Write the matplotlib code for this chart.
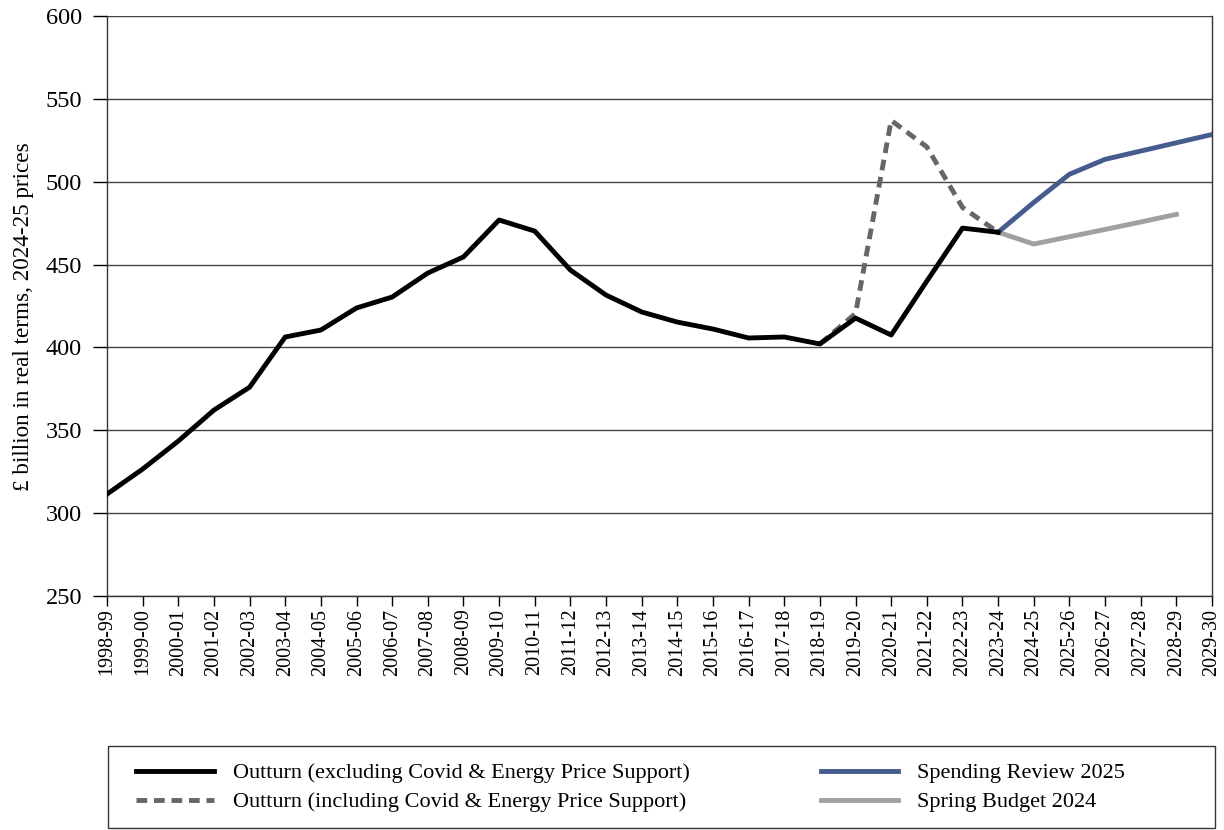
import matplotlib.pyplot as plt
from matplotlib.lines import Line2D
from matplotlib.patches import Rectangle

plt.rcParams['font.family'] = ['Liberation Serif', 'DejaVu Serif']

years = ["1998-99", "1999-00", "2000-01", "2001-02", "2002-03", "2003-04", "2004-05",
         "2005-06", "2006-07", "2007-08", "2008-09", "2009-10", "2010-11", "2011-12",
         "2012-13", "2013-14", "2014-15", "2015-16", "2016-17", "2017-18", "2018-19",
         "2019-20", "2020-21", "2021-22", "2022-23", "2023-24", "2024-25", "2025-26",
         "2026-27", "2027-28", "2028-29", "2029-30"]

# outturn excluding covid & energy support, 1998-99 to 2023-24
outturn_excl = [311.5, 326.6, 343.5, 362.2, 376.0, 406.3, 410.5, 423.8, 430.4, 444.9,
                454.6, 476.9, 470.2, 446.7, 431.6, 421.4, 415.3, 411.1, 405.7, 406.3,
                402.1, 417.7, 407.5, 440.0, 472.0, 469.5]
# including support, 2018-19 to 2023-24
outturn_incl = [402.1, 420.5, 537.0, 521.0, 484.5, 469.5]
# plans
sr2025 = [469.5, 487.5, 504.5, 513.5, 518.5, 523.5, 528.5]   # 2023-24 to 2029-30
sb2024 = [469.5, 462.4, 466.8, 471.2, 475.7, 480.3]          # 2023-24 to 2028-29

LW = 3.5
DASH = (0, (2.2, 1.4))

fig = plt.figure(figsize=(12.24, 8.3), dpi=100)
ax = fig.add_axes([107 / 1224, 1 - 596 / 830, (1212 - 107) / 1224, (596 - 16) / 830])

x_all = list(range(len(years)))
ax.plot(x_all[20:26], outturn_incl, color='#666666', lw=LW, ls=DASH, zorder=3)
ax.plot(x_all[25:31], sb2024, color='#a0a0a0', lw=LW, zorder=3)
ax.plot(x_all[25:32], sr2025, color='#465b8e', lw=LW, zorder=3)
ax.plot(x_all[:26], outturn_excl, color='black', lw=LW, zorder=4)

ax.set_xlim(0, 31)
ax.set_ylim(250, 600)
ax.set_yticks(range(250, 601, 50))
ax.set_xticks(x_all)
ax.set_xticklabels(years, rotation=90, fontsize=14.5)
ax.tick_params(axis='y', labelsize=17.5, length=10, width=1, direction='out', pad=8)
ax.tick_params(axis='x', length=7, width=1, direction='out', pad=2)
ax.grid(axis='y', color='#444444', lw=1)
ax.set_axisbelow(True)
ax.spines['top'].set_visible(False)
for s in ['left', 'right', 'bottom']:
    ax.spines[s].set_color('#333333')
    ax.spines[s].set_linewidth(1)
ax.set_ylabel("£ billion in real terms, 2024-25 prices", fontsize=16.7)
ax.yaxis.set_label_coords(-73 / 1105, (596 - 317) / 580)

handles = [
    Line2D([], [], color='black', lw=LW),
    Line2D([], [], color='#666666', lw=LW, ls=DASH),
    Line2D([], [], color='#465b8e', lw=LW),
    Line2D([], [], color='#a0a0a0', lw=LW),
]
labels = ["Outturn (excluding Covid & Energy Price Support)",
          "Outturn (including Covid & Energy Price Support)",
          "Spending Review 2025",
          "Spring Budget 2024"]
fig.legend(handles, labels, loc='center left', bbox_to_anchor=(116 / 1224, 1 - 787.5 / 830),
           ncol=2, frameon=False, fontsize=16, handlelength=3.5, handletextpad=0.85,
           columnspacing=5.9, labelspacing=0.38)
fig.patches.append(Rectangle((108 / 1224, 2 / 830), (1215 - 108) / 1224, (828 - 746) / 830,
                             transform=fig.transFigure, fill=False, edgecolor='#333333', lw=1))

fig.savefig('out.png', dpi=100)
